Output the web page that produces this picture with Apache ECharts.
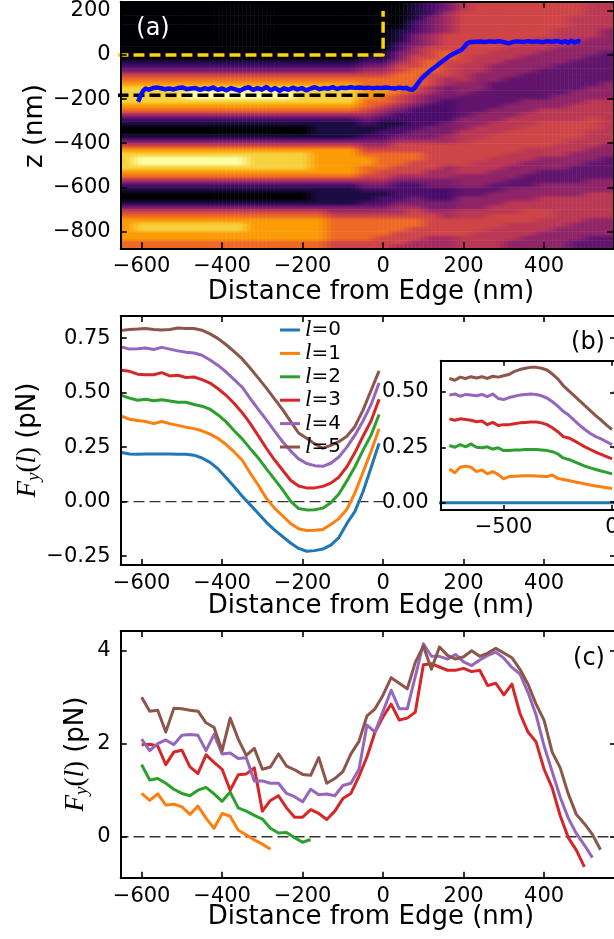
<!DOCTYPE html>
<html><head><meta charset="utf-8">
<script src="https://cdn.jsdelivr.net/npm/echarts@6/dist/echarts.min.js"></script>
<style>html,body{margin:0;padding:0;background:#fff}#c{width:614px;height:939px}</style>
</head><body><div id="c"></div>
<script>
// ---------- Panel (a): intensity map, inferno levels 0..9 (digits) and half levels a..i = 0.5..8.5 ----------
// one string per x column (heatX), characters run over z from top (heatZ)
const heatX = [-640,-600,-560,-520,-480,-440,-400,-360,-320,-280,-240,-200,-160,-120,-80,-40,0,40,80,120,160,200,240,280,320,360,400,440,480,520,560];
const heatZ = [230,210,190,170,150,130,110,90,70,50,30,10,-10,-30,-50,-70,-90,-110,-130,-150,-170,-190,-210,-230,-250,-270,-290,-310,-330,-350,-370,-390,-410,-430,-450,-470,-490,-510,-530,-550,-570,-590,-610,-630,-650,-670,-690,-710,-730,-750,-770,-790,-810,-830,-850,-870];
const heatCols = [
 "0000000000000 123567888876421 00 1357888876421 00 13567777766",
 "0000000000000 123567888876421 00 1357899876421 00 13567887766",
 "0000000000000 123567888876421 00 1357899876421 00 13567887766",
 "0000000000000 123567888876421 00 1357899876421 00 13567887766",
 "0000000000000 123567899876421 00 1357899876421 00 13567887766",
 "0000000000000 123567899876421 00 1357899876421 00 13567887766",
 "0000000000000 123567899876421 00 1357899876421 00 13567887766",
 "0000000000000 123567899876421 00 1357899876421 00 13567887766",
 "0000000000000 123567899876421 00 1357888876421 00 13567777766",
 "0000000000000 123567899876421 00 1357888876421 00 13567777766",
 "0000000000000 123567899876421 00 1357888876421 00 13567777766",
 "0000000000000 123567888876421 00 1357888876421 00 13567777766",
 "0000000000000 123567888876421 11 1357777776421 11 13567777766",
 "0000000000000 123567888876421 11 1357777776421 11 13456666655",
 "0000000000000 123567888876421 11 1357777776421 11 13456666655",
 "000000000000 1234566777665432 11 2345677665432 11 23456666655",
 "00000000000 11234566776654321 1223456666554321 223456666555",
 "000000 1112233455666665543221 22345566655432222 34456665554",
 "1111222333445556666554432222 2334556655543222 334556655544",
 "2223333444555666555443322222 3334555555443322 233455555444",
 "3344444555566555544333222223 3344555554443322 233445555444",
 "ee555555555555eeeedddcccccdd deee55555eedddcc dddee5555eee",
 "555555555555eeeeddddcccccddd eee55555eeedddcc dddee555eeee",
 "55555555555eeeddddccccccddde ee55555eeedddccd ddee555eeeee",
 "5555555555eeeddddccccccdddee e55555eeedddccdd deee55eeeedd",
 "555555555eeeddddccccccdddeee 55555eeedddcccdd dee555eeeddd",
 "55555555eeeddddcccccccddeee5 55555eedddcccddd eee55eeedddd",
 "555555eeeeddddcccccccdddeee5 5555eeedddcccddd eeeeeeeddddd",
 "555eeeeeeddddcccccccdddeeee5 555eeedddccccddd eeeeeeddddcc",
 "eeeeeeeeddddcccccccdddeeee55 5eeeedddccccddde eeeeeddddccc",
 "eeeeeedddddcccccccddddeeeeee eeeedddcccccddde eeeeeddddccc"
];
const INFERNO = ["#000004","#1b0c41","#4a0c6b","#781c6d","#a52c60","#cf4446","#ed6925","#fb9b06","#f7d13d","#fcffa4"];

const boxYellow = [[-660,0],[0,0],[0,200]];
const boxBlack = [[-660,-182],[0,-182],[0,-150]];
const trajectory = [[-609,-212],[-605,-196],[-601,-178],[-596,-162],[-590,-152],[-582,-157],[-572,-150],[-562,-147],[-552,-151],[-542,-155],[-532,-152],[-521,-156],[-510,-150],[-499,-147],[-488,-155],[-477,-152],[-466,-150],[-455,-158],[-444,-151],[-433,-155],[-422,-147],[-411,-158],[-400,-152],[-389,-160],[-378,-150],[-367,-156],[-356,-162],[-345,-152],[-334,-146],[-323,-158],[-312,-150],[-301,-157],[-290,-145],[-279,-160],[-268,-150],[-257,-162],[-246,-151],[-235,-158],[-224,-148],[-213,-156],[-202,-150],[-191,-160],[-180,-152],[-169,-146],[-158,-155],[-147,-150],[-136,-153],[-125,-146],[-114,-154],[-103,-148],[-92,-150],[-81,-146],[-70,-149],[-59,-147],[-48,-150],[-37,-148],[-26,-151],[-15,-148],[-4,-150],[7,-147],[18,-150],[29,-152],[40,-148],[50,-151],[58,-149],[66,-156],[72,-158],[78,-150],[86,-130],[95,-108],[105,-90],[115,-74],[125,-60],[135,-46],[145,-32],[155,-18],[165,-4],[175,6],[185,15],[195,24],[202,38],[208,52],[215,58],[228,60],[240,61],[252,59],[264,62],[276,60],[288,63],[300,58],[312,53],[324,60],[336,62],[348,59],[360,63],[372,60],[384,62],[396,58],[408,63],[420,60],[432,64],[444,57],[452,64],[460,56],[468,65],[476,57],[484,64],[490,60]];

// ---------- Panel (b) ----------
const xB = [-650,-630,-610,-590,-570,-550,-530,-510,-490,-470,-450,-430,-410,-390,-370,-350,-330,-310,-290,-270,-250,-230,-210,-190,-170,-150,-130,-110,-90,-70,-50,-30,-10];
const bL0 = [0.225,0.219,0.217,0.219,0.219,0.219,0.218,0.217,0.217,0.213,0.200,0.180,0.150,0.110,0.068,0.025,-0.015,-0.055,-0.095,-0.130,-0.160,-0.190,-0.215,-0.228,-0.225,-0.218,-0.200,-0.165,-0.100,-0.045,0.045,0.155,0.268];
const bL1 = [0.392,0.378,0.372,0.368,0.358,0.368,0.358,0.350,0.342,0.335,0.325,0.310,0.290,0.262,0.228,0.190,0.130,0.075,0.015,-0.030,-0.065,-0.100,-0.125,-0.133,-0.132,-0.128,-0.105,-0.078,-0.035,0.040,0.135,0.230,0.335];
const bL2 = [0.488,0.475,0.465,0.470,0.463,0.468,0.462,0.456,0.456,0.446,0.438,0.424,0.398,0.366,0.325,0.288,0.243,0.200,0.150,0.103,0.055,0.002,-0.032,-0.038,-0.037,-0.030,-0.005,0.035,0.095,0.160,0.235,0.305,0.400];
const bL3 = [0.603,0.598,0.585,0.582,0.582,0.592,0.577,0.580,0.570,0.572,0.560,0.544,0.518,0.488,0.450,0.408,0.358,0.302,0.245,0.192,0.145,0.098,0.072,0.063,0.063,0.070,0.085,0.112,0.160,0.225,0.300,0.370,0.470];
const bL4 = [0.710,0.700,0.702,0.705,0.698,0.708,0.700,0.692,0.686,0.682,0.672,0.650,0.625,0.595,0.560,0.525,0.473,0.423,0.375,0.325,0.276,0.233,0.196,0.175,0.165,0.162,0.176,0.205,0.250,0.305,0.370,0.445,0.545];
const bL5 = [0.786,0.790,0.792,0.795,0.790,0.788,0.790,0.797,0.795,0.795,0.787,0.770,0.748,0.720,0.688,0.655,0.612,0.567,0.521,0.472,0.423,0.368,0.315,0.291,0.265,0.245,0.258,0.275,0.300,0.345,0.420,0.510,0.600];

// inset of (b)
const xI = [-750,-725,-700,-675,-650,-625,-600,-575,-550,-525,-500,-475,-450,-425,-400,-375,-350,-325,-300,-275,-250,-225,-200,-175,-150,-125,-100,-75,-50,-25,0];
const iL0x = [-800,30];
const iL0 = [0,0];
const iL1 = [0.152,0.135,0.160,0.165,0.160,0.140,0.148,0.130,0.140,0.128,0.108,0.118,0.120,0.121,0.122,0.122,0.121,0.120,0.118,0.125,0.110,0.105,0.100,0.095,0.090,0.085,0.080,0.076,0.072,0.068,0.064];
const iL2 = [0.258,0.250,0.262,0.252,0.265,0.250,0.248,0.252,0.242,0.248,0.235,0.236,0.238,0.238,0.240,0.240,0.240,0.238,0.235,0.230,0.220,0.202,0.195,0.185,0.175,0.165,0.157,0.150,0.143,0.137,0.130];
const iL3 = [0.378,0.372,0.378,0.375,0.372,0.365,0.368,0.352,0.362,0.348,0.352,0.352,0.356,0.360,0.362,0.364,0.364,0.360,0.352,0.338,0.320,0.298,0.292,0.280,0.266,0.252,0.240,0.228,0.218,0.208,0.198];
const iL4 = [0.485,0.490,0.480,0.488,0.485,0.482,0.488,0.478,0.490,0.470,0.465,0.474,0.480,0.485,0.488,0.490,0.488,0.482,0.472,0.455,0.435,0.412,0.395,0.372,0.350,0.330,0.312,0.298,0.288,0.275,0.262];
const iL5 = [0.560,0.552,0.566,0.560,0.568,0.562,0.568,0.560,0.570,0.566,0.572,0.578,0.592,0.600,0.606,0.610,0.610,0.606,0.598,0.580,0.558,0.528,0.505,0.483,0.460,0.438,0.415,0.393,0.372,0.350,0.330];

// ---------- Panel (c) ----------
const xC = [-600,-580,-560,-540,-520,-500,-480,-460,-440,-420,-400,-380,-360,-340,-320,-300,-280,-260,-240,-220,-200,-180,-160,-140,-120,-100,-80,-60,-40,-20,0,20,40,60,80,100,120,140,160,180,200,220,240,260,280,300,320,340,360,380,400,420,440,460,480,500,520,540];
const cL1 = [0.93,0.78,0.92,0.68,0.70,0.64,0.48,0.66,0.40,0.18,0.50,0.44,0.14,0.04,-0.07,-0.16,-0.27];
const cL2 = [1.55,1.22,1.25,1.15,1.02,0.93,0.88,1.00,1.06,0.92,0.76,0.96,0.62,0.55,0.46,0.38,0.18,0.08,0.09,-0.02,-0.12,-0.06];
const cL3 = [1.98,1.99,1.95,1.55,1.82,1.86,1.50,1.36,1.76,1.60,1.45,1.00,1.33,1.35,1.48,0.55,0.78,0.88,0.62,0.42,0.42,0.58,0.50,0.37,0.55,0.82,0.93,1.30,1.72,2.25,2.58,2.85,2.51,2.55,2.68,3.70,3.72,3.65,3.58,3.58,3.62,3.55,3.58,3.25,3.30,3.05,3.28,2.65,2.25,2.04,1.45,1.05,0.45,-0.02,-0.29,-0.65];
const cL4 = [2.10,1.85,2.00,2.08,1.98,2.18,2.20,2.18,1.85,2.20,1.78,1.80,1.68,1.70,1.20,1.20,1.15,1.15,0.93,0.86,0.75,1.02,0.90,0.92,0.88,1.10,1.15,1.45,2.40,2.25,2.70,3.15,2.75,2.75,3.45,4.15,3.88,3.88,3.82,3.92,3.76,3.68,3.80,3.90,3.97,3.84,3.64,3.50,3.10,2.62,1.95,1.40,0.85,0.40,0.07,-0.18,-0.45];
const cL5 = [3.00,2.70,2.72,2.25,2.76,2.75,2.72,2.70,2.45,2.35,1.85,2.55,2.10,1.75,1.90,1.45,1.50,1.78,1.52,1.44,1.34,1.32,1.70,1.15,1.25,1.40,1.78,2.05,2.60,2.75,3.05,3.42,3.30,3.18,3.75,4.10,3.60,4.08,3.90,3.82,3.87,4.00,3.88,3.95,4.05,3.95,3.85,3.60,3.28,2.85,2.50,1.82,1.48,0.92,0.48,0.28,0.05,-0.28];

// tick values
const ticksX = [-600,-400,-200,0,200,400];
const ticksZ = [-800,-600,-400,-200,0,200];
const ticksYB = [-0.25,0,0.25,0.5,0.75];
const ticksYC = [0,2,4];
const ticksXI = [-500,0];
const ticksYI = [0,0.25,0.5];

const COLORS = ['#1f77b4','#ff7f0e','#2ca02c','#d62728','#9467bd','#8c564b'];

// ---------- helpers ----------
const FONT = 'DejaVu Sans';
const fmtI = v => (v < 0 ? '\u2212' : '') + Math.abs(v);
const fmt2 = v => (v < 0 ? '\u2212' : '') + Math.abs(v).toFixed(2);
const pairs = (xs, ys) => ys.map((v, i) => [xs[i], v]);

function hexToRgb(h){ return [parseInt(h.substr(1,2),16), parseInt(h.substr(3,2),16), parseInt(h.substr(5,2),16)]; }
const INF_RGB = INFERNO.map(hexToRgb);
function infernoAt(t){
  t = Math.max(0, Math.min(9, t));
  const i = Math.min(8, Math.floor(t)), f = t - i;
  const a = INF_RGB[i], b = INF_RGB[i+1];
  return 'rgb(' + [0,1,2].map(k => Math.round(a[k] + (b[k]-a[k])*f)).join(',') + ')';
}
function decode(ch){
  if (ch >= '0' && ch <= '9') return +ch;
  return ch.charCodeAt(0) - 97 + 0.5;
}

function axis(kind, grid, min, max, ticks, position, labels, fmt, tickLen, margin) {
  return {
    type: 'value', gridIndex: grid, min: min, max: max, position: position, z: 10,
    axisLine: {show: true, onZero: false, lineStyle: {color: '#000', width: 2}},
    axisTick: {show: true, inside: true, length: tickLen || 6, customValues: ticks, lineStyle: {color: '#000', width: 1.6}},
    axisLabel: {show: labels, customValues: ticks, formatter: fmt, color: '#000', fontSize: 21, fontFamily: FONT,
                margin: margin != null ? margin : (kind === 'x' ? 8 : 10)},
    splitLine: {show: false}, minorTick: {show: false}, axisPointer: {show: false}
  };
}

function line(name, xi, yi, pts, color, width, z, dash) {
  return {type: 'line', name: name, xAxisIndex: xi, yAxisIndex: yi, data: pts, showSymbol: false, symbol: 'none',
          clip: true, silent: true, z: z || 3, animation: false,
          lineStyle: {color: color, width: width || 3, type: dash || 'solid', cap: 'butt', join: 'round'},
          itemStyle: {color: color}, emphasis: {disabled: true}};
}

// heat field (decoded) and smooth rendering (bilinear shading inside each cell)
const V = heatCols.map(s => Array.from(s.replace(/\s/g, '')).map(decode));
const nC = V.length, nR = heatZ.length;
function valAt(cf, rf) {
  cf = Math.max(0, Math.min(nC - 1, cf)); rf = Math.max(0, Math.min(nR - 1, rf));
  const c0 = Math.floor(cf), r0 = Math.floor(rf);
  const c1 = Math.min(nC - 1, c0 + 1), r1 = Math.min(nR - 1, r0 + 1);
  const fx = cf - c0, fy = rf - r0;
  const g = (c, r) => (V[c][r] != null ? V[c][r] : 0);
  return (g(c0, r0) * (1 - fx) + g(c1, r0) * fx) * (1 - fy) + (g(c0, r1) * (1 - fx) + g(c1, r1) * fx) * fy;
}
const cells = [];
for (let c = 0; c < nC; c++) for (let r = 0; r < nR; r++) cells.push([heatX[c], heatZ[r], c, r]);
const HX = (heatX[1] - heatX[0]) / 2, HZ = (heatZ[0] - heatZ[1]) / 2;
const SUB = 4;

const chart = echarts.init(document.getElementById('c'), null, {width: 614, height: 939});

const yTitleRich = {
  m: {fontFamily: 'Liberation Serif', fontStyle: 'italic', fontSize: 27, lineHeight: 30, fill: '#000'},
  s: {fontFamily: 'Liberation Serif', fontStyle: 'italic', fontSize: 19, lineHeight: 19, verticalAlign: 'bottom', fill: '#000'},
  r: {fontFamily: 'Liberation Serif', fontSize: 27, lineHeight: 30, fill: '#000'},
  t: {fontFamily: FONT, fontSize: 26, lineHeight: 30, fill: '#000'}
};

const option = {
  animation: false,
  backgroundColor: '#fff',
  textStyle: {fontFamily: FONT},
  grid: [
    {left: 120.7, top: 1.7, width: 492.6, height: 246.6, outerBoundsMode: 'none', containLabel: false},
    {left: 120.7, top: 316, width: 495.3, height: 249, outerBoundsMode: 'none', containLabel: false},
    {left: 120.7, top: 631, width: 495.3, height: 246.7, outerBoundsMode: 'none', containLabel: false},
    {left: 440.7, top: 360.7, width: 177.8, height: 149.4, outerBoundsMode: 'none', containLabel: false,
     show: true, backgroundColor: '#fff', borderWidth: 0, z: 5}
  ],
  xAxis: [
    axis('x', 0, -652, 572, ticksX, 'bottom', true, fmtI),
    axis('x', 0, -652, 572, ticksX, 'top', false, fmtI),
    axis('x', 1, -652, 578.6, ticksX, 'bottom', true, fmtI),
    axis('x', 1, -652, 578.6, ticksX, 'top', false, fmtI),
    axis('x', 2, -652, 578.6, ticksX, 'bottom', true, fmtI),
    axis('x', 2, -652, 578.6, ticksX, 'top', false, fmtI),
    axis('x', 3, -790, 30, ticksXI, 'bottom', true, fmtI, 5, 7),
    axis('x', 3, -790, 30, ticksXI, 'top', false, fmtI, 5)
  ],
  yAxis: [
    axis('y', 0, -877, 242, ticksZ, 'left', true, fmtI),
    axis('y', 0, -877, 242, ticksZ, 'right', false, fmtI),
    axis('y', 1, -0.291, 0.852, ticksYB, 'left', true, fmt2),
    axis('y', 1, -0.291, 0.852, ticksYB, 'right', false, fmt2),
    axis('y', 2, -0.882, 4.424, ticksYC, 'left', true, fmtI),
    axis('y', 2, -0.882, 4.424, ticksYC, 'right', false, fmtI),
    axis('y', 3, -0.033, 0.64, ticksYI, 'left', true, fmt2, 5, 12),
    axis('y', 3, -0.033, 0.64, ticksYI, 'right', false, fmt2, 5)
  ],
  legend: {
    data: ['l=0','l=1','l=2','l=3','l=4','l=5'],
    orient: 'vertical', left: 280, top: 318.5, padding: 0,
    itemWidth: 20, itemHeight: 3, itemGap: 0.4, icon: 'rect', selectedMode: false,
    formatter: n => '{i|l}{n|' + n.slice(1) + '}',
    textStyle: {color: '#000', fontSize: 20, lineHeight: 19, fontFamily: FONT,
      rich: {i: {fontFamily: 'Liberation Serif', fontStyle: 'italic', fontSize: 23, lineHeight: 19, color: '#000'},
             n: {fontFamily: FONT, fontSize: 20, lineHeight: 19, color: '#000'}}}
  },
  series: [
    {
      type: 'custom', name: 'field', xAxisIndex: 0, yAxisIndex: 0, clip: true, silent: true, z: 1,
      data: cells, encode: {x: 0, y: 1},
      renderItem: function (params, api) {
        const x = api.value(0), z = api.value(1), c = api.value(2), r = api.value(3);
        const yTop = api.coord([x, z + HZ])[1], yBot = api.coord([x, z - HZ])[1];
        const children = [];
        for (let s = 0; s < SUB; s++) {
          const xa = x - HX + s * (2 * HX / SUB), xb = xa + 2 * HX / SUB;
          const pa = api.coord([xa, z]), pb = api.coord([xb, z]);
          const cf = c - 0.5 + (s + 0.5) / SUB;
          const stops = [0, 0.25, 0.5, 0.75, 1].map(o => ({offset: o, color: infernoAt(valAt(cf, r - 0.5 + o))}));
          children.push({type: 'rect', shape: {x: pa[0], y: yTop, width: pb[0] - pa[0] + 0.5, height: yBot - yTop + 0.5},
                         style: {fill: {type: 'linear', x: 0, y: 0, x2: 0, y2: 1, colorStops: stops}}});
        }
        return {type: 'group', children: children};
      }
    },
    line('yellow box', 0, 0, boxYellow, '#ffd400', 3.5, 4, [11, 5]),
    line('black box', 0, 0, boxBlack, '#000000', 3.5, 4, [11, 5]),
    line('trajectory', 0, 0, trajectory, '#0b0bff', 4.5, 5),

    line('zero b', 2, 2, [[-660, 0], [4, 0]], '#333', 1.4, 2, [11, 5]),
    line('l=0', 2, 2, pairs(xB, bL0), COLORS[0]),
    line('l=1', 2, 2, pairs(xB, bL1), COLORS[1]),
    line('l=2', 2, 2, pairs(xB, bL2), COLORS[2]),
    line('l=3', 2, 2, pairs(xB, bL3), COLORS[3]),
    line('l=4', 2, 2, pairs(xB, bL4), COLORS[4]),
    line('l=5', 2, 2, pairs(xB, bL5), COLORS[5]),

    line('inset l=0', 6, 6, pairs(iL0x, iL0), COLORS[0], 3, 6),
    line('inset l=1', 6, 6, pairs(xI, iL1), COLORS[1], 3, 6),
    line('inset l=2', 6, 6, pairs(xI, iL2), COLORS[2], 3, 6),
    line('inset l=3', 6, 6, pairs(xI, iL3), COLORS[3], 3, 6),
    line('inset l=4', 6, 6, pairs(xI, iL4), COLORS[4], 3, 6),
    line('inset l=5', 6, 6, pairs(xI, iL5), COLORS[5], 3, 6),

    line('zero c', 4, 4, [[-660, 0], [600, 0]], '#333', 1.4, 2, [11, 5]),
    line('c l=1', 4, 4, pairs(xC, cL1), COLORS[1]),
    line('c l=2', 4, 4, pairs(xC, cL2), COLORS[2]),
    line('c l=3', 4, 4, pairs(xC, cL3), COLORS[3]),
    line('c l=4', 4, 4, pairs(xC, cL4), COLORS[4]),
    line('c l=5', 4, 4, pairs(xC, cL5), COLORS[5])
  ],
  graphic: [
    {type: 'text', x: 153, y: 29, z: 30, style: {text: '(a)', fill: '#fff', font: '24px "DejaVu Sans"', align: 'center', verticalAlign: 'middle'}},
    {type: 'text', x: 588, y: 343, z: 30, style: {text: '(b)', fill: '#000', font: '24px "DejaVu Sans"', align: 'center', verticalAlign: 'middle'}},
    {type: 'text', x: 589, y: 659, z: 30, style: {text: '(c)', fill: '#000', font: '24px "DejaVu Sans"', align: 'center', verticalAlign: 'middle'}},
    {type: 'text', x: 371, y: 292, z: 30, style: {text: 'Distance from Edge (nm)', fill: '#000', font: '26px "DejaVu Sans"', align: 'center', verticalAlign: 'middle'}},
    {type: 'text', x: 371, y: 606, z: 30, style: {text: 'Distance from Edge (nm)', fill: '#000', font: '26px "DejaVu Sans"', align: 'center', verticalAlign: 'middle'}},
    {type: 'text', x: 371, y: 917, z: 30, style: {text: 'Distance from Edge (nm)', fill: '#000', font: '26px "DejaVu Sans"', align: 'center', verticalAlign: 'middle'}},
    {type: 'text', x: 35, y: 126, rotation: Math.PI / 2, z: 30, style: {text: 'z (nm)', fill: '#000', font: '26px "DejaVu Sans"', align: 'center', verticalAlign: 'middle'}},
    {type: 'text', x: 28, y: 440, rotation: Math.PI / 2, z: 30, style: {
      text: '{m|F}{s|y}{r|(}{m|l}{r|)}{t| (pN)}', align: 'center', verticalAlign: 'middle', fill: '#000', rich: yTitleRich}},
    {type: 'text', x: 76, y: 754, rotation: Math.PI / 2, z: 30, style: {
      text: '{m|F}{s|y}{r|(}{m|l}{r|)}{t| (pN)}', align: 'center', verticalAlign: 'middle', fill: '#000', rich: yTitleRich}}
  ]
};
chart.setOption(option);
</script>
</body></html>
